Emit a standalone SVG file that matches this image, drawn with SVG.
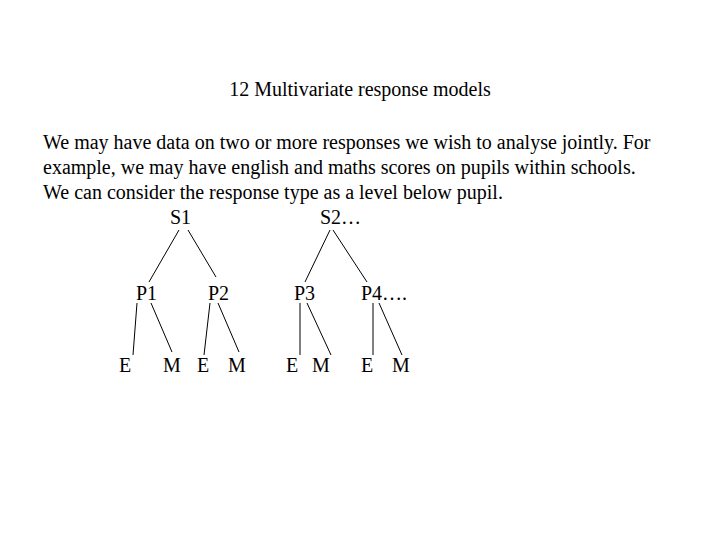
<svg xmlns="http://www.w3.org/2000/svg" width="720" height="540" viewBox="0 0 720 540">
<style>text{font-family:"Liberation Serif","Times New Roman",serif;font-size:20px;fill:#000}line{stroke:#000;stroke-width:1}</style>
<rect width="720" height="540" fill="#fff"/>
<text x="360" y="96" text-anchor="middle">12 Multivariate response models</text>
<text x="43" y="149">We may have data on two or more responses we wish to analyse jointly. For</text>
<text x="43" y="174">example, we may have english and maths scores on pupils within schools.</text>
<text x="43" y="199">We can consider the response type as a level below pupil.</text>
<g id="connectors">
<line x1="179" y1="230" x2="149" y2="282"/><line x1="188" y1="230" x2="216" y2="277"/>
<line x1="137" y1="303" x2="133" y2="355"/><line x1="151" y1="303" x2="172" y2="352"/>
<line x1="210" y1="303" x2="204" y2="355"/><line x1="218" y1="303" x2="239" y2="352"/>
<line x1="330" y1="230" x2="305" y2="282"/><line x1="333" y1="230" x2="367" y2="282"/>
<line x1="300" y1="303" x2="300" y2="355"/><line x1="307" y1="303" x2="331" y2="355"/>
<line x1="373" y1="303" x2="373" y2="355"/><line x1="379" y1="303" x2="402" y2="355"/>
</g>
<g id="S1"><text x="170" y="224">S1</text></g>
<g id="S2"><text x="320" y="224">S2…</text></g>
<g id="P1"><text x="136" y="300">P1</text></g>
<g id="P2"><text x="208" y="300">P2</text></g>
<g id="P3"><text x="294" y="300">P3</text></g>
<g id="P4"><text x="361" y="300">P4….</text></g>
<g id="E1"><text x="119" y="372">E</text></g>
<g id="M1"><text x="163" y="372">M</text></g>
<g id="E2"><text x="197" y="372">E</text></g>
<g id="M2"><text x="228" y="372">M</text></g>
<g id="E3"><text x="286" y="372">E</text></g>
<g id="M3"><text x="312" y="372">M</text></g>
<g id="E4"><text x="361" y="372">E</text></g>
<g id="M4"><text x="392" y="372">M</text></g>
</svg>
